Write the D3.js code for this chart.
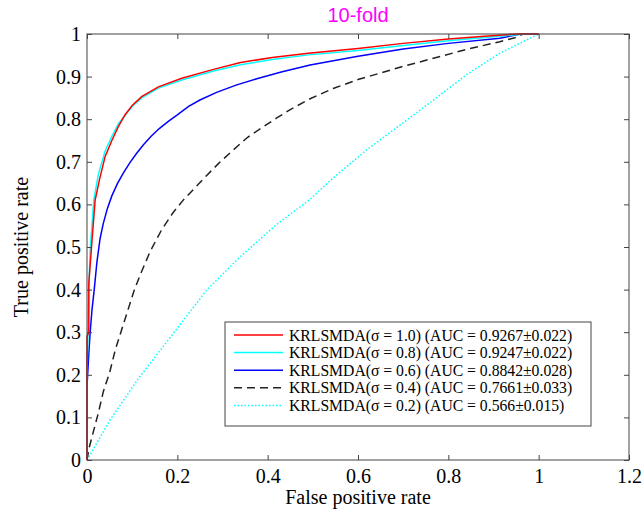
<!DOCTYPE html>
<html><head><meta charset="utf-8">
<script src="https://cdn.jsdelivr.net/npm/d3@7/dist/d3.min.js"></script>
<style>body{margin:0;background:#fff;} svg{display:block;}</style>
</head><body>
<script>
// ---- data ----
const xTicks = [0, 0.2, 0.4, 0.6, 0.8, 1, 1.2];
const yTicks = [0, 0.1, 0.2, 0.3, 0.4, 0.5, 0.6, 0.7, 0.8, 0.9, 1];
const xTickLabels = ["0", "0.2", "0.4", "0.6", "0.8", "1", "1.2"];
const yTickLabels = ["0", "0.1", "0.2", "0.3", "0.4", "0.5", "0.6", "0.7", "0.8", "0.9", "1"];
const seriesNames = [
  "KRLSMDA(\u03c3 = 1.0) (AUC = 0.9267\u00b10.022)",
  "KRLSMDA(\u03c3 = 0.8) (AUC = 0.9247\u00b10.022)",
  "KRLSMDA(\u03c3 = 0.6) (AUC = 0.8842\u00b10.028)",
  "KRLSMDA(\u03c3 = 0.4) (AUC = 0.7661\u00b10.033)",
  "KRLSMDA(\u03c3 = 0.2) (AUC = 0.566\u00b10.015)"
];
const fprSigma10 = [0,0,0.004,0.004,0.01,0.018,0.028,0.04,0.055,0.069,0.084,0.10,0.121,0.158,0.21,0.28,0.34,0.41,0.49,0.6,0.7,0.8,0.88,0.95,1];
const tprSigma10 = [0,0.29,0.30,0.415,0.5,0.61,0.66,0.712,0.75,0.782,0.81,0.832,0.853,0.876,0.896,0.917,0.933,0.945,0.955,0.966,0.978,0.988,0.995,1,1];
const fprSigma08 = [0,0,0.002,0.004,0.007,0.015,0.025,0.04,0.055,0.07,0.085,0.10,0.121,0.158,0.21,0.28,0.34,0.41,0.49,0.6,0.7,0.8,0.88,0.95,0.97,1];
const tprSigma08 = [0,0.2,0.29,0.4,0.493,0.61,0.67,0.725,0.76,0.79,0.81,0.83,0.85,0.873,0.892,0.913,0.928,0.94,0.951,0.961,0.973,0.984,0.992,0.998,1,1];
const fprSigma06 = [0,0,0.004,0.007,0.011,0.016,0.022,0.029,0.036,0.045,0.055,0.067,0.08,0.095,0.11,0.125,0.142,0.16,0.18,0.2,0.225,0.25,0.287,0.33,0.376,0.43,0.494,0.6,0.7,0.8,0.914,0.96,1];
const tprSigma06 = [0,0.172,0.25,0.30,0.352,0.40,0.465,0.52,0.555,0.59,0.62,0.648,0.673,0.698,0.72,0.74,0.76,0.778,0.795,0.81,0.83,0.845,0.863,0.88,0.895,0.911,0.927,0.948,0.965,0.978,0.990,1,1];
const fprSigma04 = [0,0.005,0.015,0.025,0.036,0.05,0.063,0.075,0.09,0.105,0.12,0.14,0.165,0.19,0.213,0.24,0.265,0.295,0.324,0.355,0.39,0.42,0.449,0.494,0.545,0.6,0.693,0.767,0.841,0.914,0.95,0.965,1];
const tprSigma04 = [0,0.03,0.07,0.11,0.16,0.205,0.26,0.30,0.35,0.40,0.44,0.49,0.54,0.58,0.61,0.64,0.668,0.7,0.728,0.757,0.782,0.803,0.822,0.848,0.872,0.893,0.922,0.943,0.964,0.982,0.992,1,1];
const fprSigma02 = [0,0.051,0.117,0.191,0.265,0.339,0.42,0.494,0.545,0.619,0.693,0.767,0.841,0.914,0.988,1];
const tprSigma02 = [0,0.094,0.196,0.297,0.399,0.477,0.553,0.612,0.662,0.728,0.786,0.845,0.905,0.955,0.994,1];

const W = 644, H = 523;
const m = {left: 87, top: 34, right: 629, bottom: 460};
const svg = d3.select("body").append("svg").attr("width", W).attr("height", H)
  .style("font-family", "'Liberation Serif','Times New Roman',serif");

const x = d3.scaleLinear().domain([0, 1.2]).range([m.left, m.right]);
const y = d3.scaleLinear().domain([0, 1]).range([m.bottom, m.top]);

const series = [
  {name: seriesNames[0], xs: fprSigma10, ys: tprSigma10, color: "#ff0000", dash: null, w: 1.5},
  {name: seriesNames[1], xs: fprSigma08, ys: tprSigma08, color: "#00ffff", dash: null, w: 1.5},
  {name: seriesNames[2], xs: fprSigma06, ys: tprSigma06, color: "#0000ff", dash: null, w: 1.5},
  {name: seriesNames[3], xs: fprSigma04, ys: tprSigma04, color: "#222222", dash: "8,5", w: 1.5},
  {name: seriesNames[4], xs: fprSigma02, ys: tprSigma02, color: "#00ffff", dash: "1.5,2", w: 1.5}
];

// title
svg.append("text").attr("x", 358).attr("y", 22).attr("text-anchor", "middle")
  .attr("font-family", "'Liberation Sans',Arial,sans-serif").attr("font-size", 20)
  .attr("fill", "#ff00ff").text("10-fold");

// curves
const line = d3.line().x(d => x(d[0])).y(d => y(d[1]));
const gLines = svg.append("g");
series.slice().reverse().forEach(s => {
  const pts = s.xs.map((v, i) => [v, s.ys[i]]);
  gLines.append("path").datum(pts).attr("d", line).attr("fill", "none")
    .attr("stroke", s.color).attr("stroke-width", s.w)
    .attr("stroke-dasharray", s.dash);
});

// axes (ticks inside, all four sides)
const tickLen = 5;
const ax = svg.append("g").attr("transform", `translate(0,${m.bottom})`)
  .call(d3.axisBottom(x).tickValues(xTicks).tickSizeInner(-tickLen).tickSizeOuter(0)
    .tickPadding(9).tickFormat((d, i) => xTickLabels[i]));
const axT = svg.append("g").attr("transform", `translate(0,${m.top})`)
  .call(d3.axisTop(x).tickValues(xTicks).tickSizeInner(-tickLen).tickSizeOuter(0).tickFormat(""));
const ay = svg.append("g").attr("transform", `translate(${m.left},0)`)
  .call(d3.axisLeft(y).tickValues(yTicks).tickSizeInner(-tickLen).tickSizeOuter(0)
    .tickPadding(6).tickFormat((d, i) => yTickLabels[i]));
const ayR = svg.append("g").attr("transform", `translate(${m.right},0)`)
  .call(d3.axisRight(y).tickValues(yTicks).tickSizeInner(-tickLen).tickSizeOuter(0).tickFormat(""));
[ax, axT, ay, ayR].forEach(g => {
  g.select(".domain").remove();
  g.selectAll(".tick line").attr("stroke", "#444");
  g.selectAll("text").attr("font-family", "'Liberation Serif','Times New Roman',serif")
    .attr("font-size", 20).attr("fill", "#000");
});
svg.append("rect").attr("x", m.left).attr("y", m.top)
  .attr("width", m.right - m.left).attr("height", m.bottom - m.top)
  .attr("fill", "none").attr("stroke", "#444").attr("stroke-width", 1);

// axis labels
svg.append("text").attr("x", 358).attr("y", 504).attr("text-anchor", "middle")
  .attr("font-size", 20).text("False positive rate");
svg.append("text").attr("transform", "translate(28,247) rotate(-90)").attr("text-anchor", "middle")
  .attr("font-size", 20).text("True positive rate");

// legend
const lg = svg.append("g");
lg.append("rect").attr("x", 225).attr("y", 322).attr("width", 366).attr("height", 104)
  .attr("fill", "#fff").attr("stroke", "#444").attr("stroke-width", 1);
series.forEach((s, i) => {
  const cy = 335 + i * 17.6;
  lg.append("line").attr("x1", 234).attr("x2", 283).attr("y1", cy).attr("y2", cy)
    .attr("stroke", s.color).attr("stroke-width", s.w).attr("stroke-dasharray", s.dash);
  lg.append("text").attr("x", 289).attr("y", cy + 5.5).attr("font-size", 15.7).text(s.name);
});
</script>
</body></html>
